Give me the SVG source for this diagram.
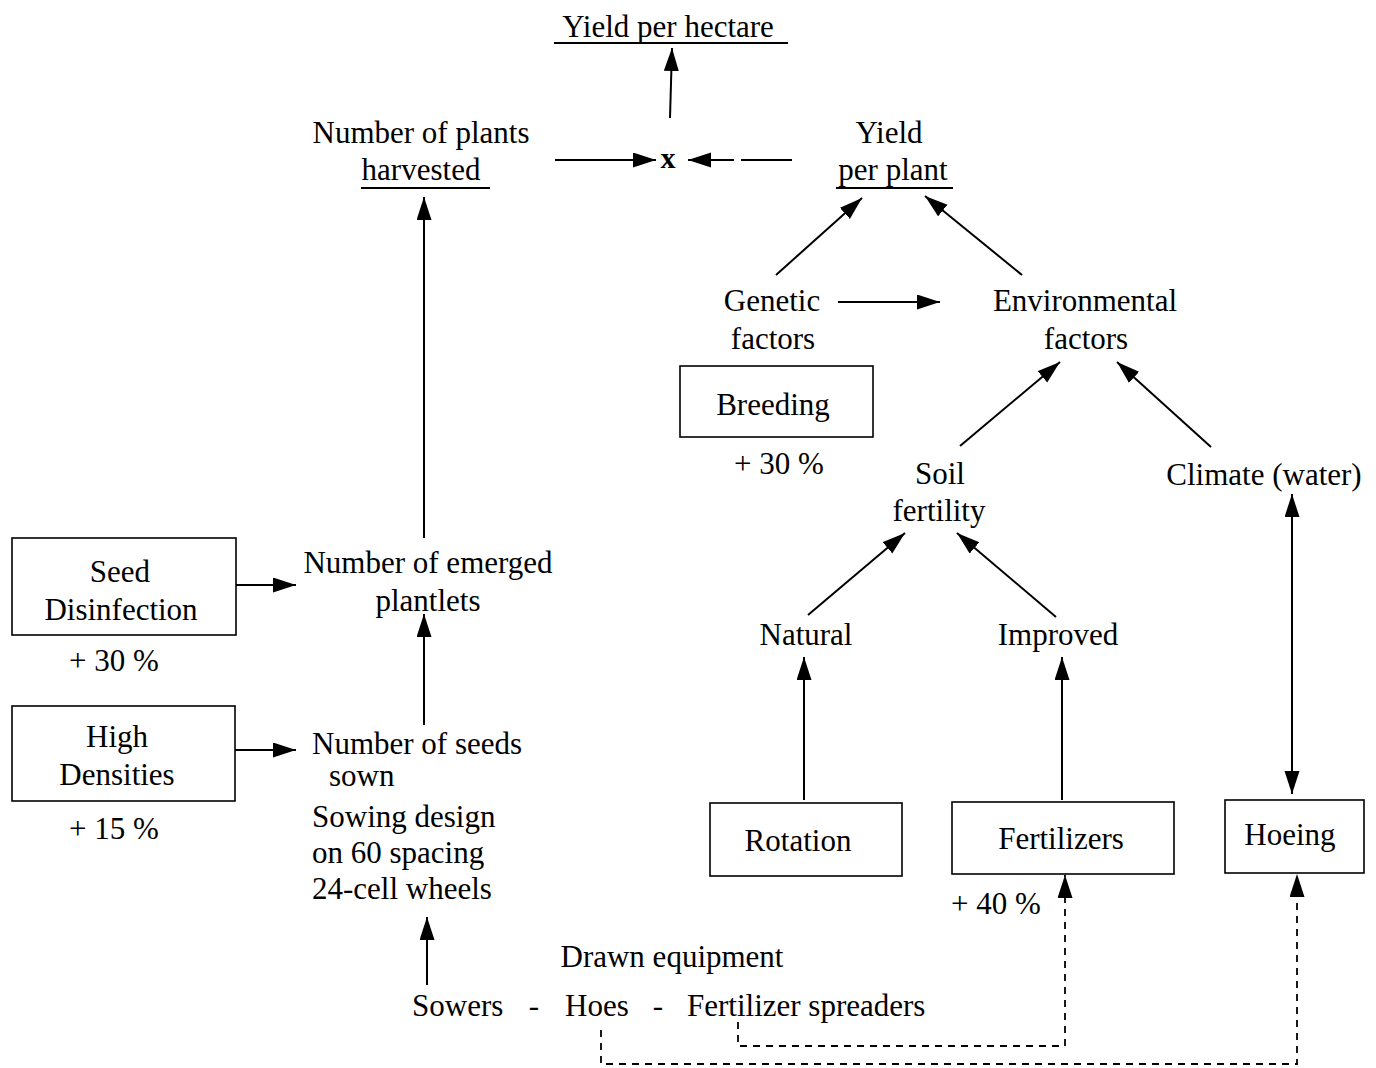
<svg xmlns="http://www.w3.org/2000/svg" width="1376" height="1068" viewBox="0 0 1376 1068">
  <style>
    text { font-family: "Liberation Serif", "Times New Roman", serif; font-size: 31px; fill: #000; }
    .c { text-anchor: middle; }
    .box { fill: #fff; stroke: #000; stroke-width: 1.6; }
    .ul { stroke: #000; stroke-width: 2.2; }
    .ln { fill: none; stroke: #000; stroke-width: 2; }
    .dash { fill: none; stroke: #000; stroke-width: 1.8; stroke-dasharray: 7 6; }
    .bold { font-weight: bold; font-size: 30px; }
  </style>
  <defs>
    <marker id="ah" markerUnits="userSpaceOnUse" markerWidth="26" markerHeight="18" refX="23" refY="7.5" orient="auto-start-reverse">
      <path d="M0,0 L23,7.5 L0,15 Z" fill="#000"/>
    </marker>
  </defs>

  <rect width="1376" height="1068" fill="#fff"/>

  <!-- nodes -->
  <g id="yield-hectare">
    <text class="c" x="668" y="37">Yield per hectare</text>
    <line class="ul" x1="554" y1="43" x2="788" y2="43"/>
  </g>
  <g id="times">
    <text class="c bold" x="668" y="168">x</text>
  </g>
  <g id="plants-harvested">
    <text class="c" x="421" y="143">Number of plants</text>
    <text class="c" x="421" y="180">harvested</text>
    <line class="ul" x1="361" y1="188" x2="490" y2="188"/>
  </g>
  <g id="yield-plant">
    <text class="c" x="889" y="143">Yield</text>
    <text class="c" x="893" y="180">per plant</text>
    <line class="ul" x1="836" y1="188" x2="953" y2="188"/>
  </g>
  <g id="genetic">
    <text class="c" x="772" y="311">Genetic</text>
    <text class="c" x="773" y="349">factors</text>
  </g>
  <g id="environmental">
    <text class="c" x="1085" y="311">Environmental</text>
    <text class="c" x="1086" y="349">factors</text>
  </g>
  <g id="breeding">
    <rect class="box" x="680" y="366" width="193" height="71"/>
    <text class="c" x="773" y="415">Breeding</text>
    <text class="c" x="779" y="474">+ 30 %</text>
  </g>
  <g id="soil">
    <text class="c" x="940" y="484">Soil</text>
    <text class="c" x="939" y="521">fertility</text>
  </g>
  <g id="climate">
    <text class="c" x="1264" y="485">Climate (water)</text>
  </g>
  <g id="natural">
    <text class="c" x="806" y="645">Natural</text>
  </g>
  <g id="improved">
    <text class="c" x="1058" y="645">Improved</text>
  </g>
  <g id="rotation">
    <rect class="box" x="710" y="803" width="192" height="73"/>
    <text class="c" x="798" y="851">Rotation</text>
  </g>
  <g id="fertilizers">
    <rect class="box" x="952" y="802" width="222" height="72"/>
    <text class="c" x="1061" y="849">Fertilizers</text>
    <text class="c" x="996" y="914">+ 40 %</text>
  </g>
  <g id="hoeing">
    <rect class="box" x="1225" y="800" width="139" height="73"/>
    <text class="c" x="1290" y="845">Hoeing</text>
  </g>
  <g id="emerged">
    <text class="c" x="428" y="573">Number of emerged</text>
    <text class="c" x="428" y="611">plantlets</text>
  </g>
  <g id="seed-disinfection">
    <rect class="box" x="12" y="538" width="224" height="97"/>
    <text class="c" x="120" y="582">Seed</text>
    <text class="c" x="121" y="620">Disinfection</text>
    <text class="c" x="114" y="671">+ 30 %</text>
  </g>
  <g id="high-densities">
    <rect class="box" x="12" y="706" width="223" height="95"/>
    <text class="c" x="117" y="747">High</text>
    <text class="c" x="117" y="785">Densities</text>
    <text class="c" x="114" y="839">+ 15 %</text>
  </g>
  <g id="seeds-sown">
    <text x="312" y="754">Number of seeds</text>
    <text x="329" y="786">sown</text>
    <text x="312" y="827">Sowing design</text>
    <text x="312" y="863">on 60 spacing</text>
    <text x="312" y="899">24-cell wheels</text>
  </g>
  <g id="equipment">
    <text class="c" x="672" y="967">Drawn equipment</text>
    <text x="412" y="1016">Sowers</text>
    <text class="c" x="534" y="1016">-</text>
    <text x="565" y="1016">Hoes</text>
    <text class="c" x="658" y="1016">-</text>
    <text x="687" y="1016">Fertilizer spreaders</text>
  </g>

  <!-- connectors -->
  <g id="connectors">
    <line class="ln" x1="670" y1="118" x2="672" y2="48" marker-end="url(#ah)"/>
    <line class="ln" x1="555" y1="160" x2="656" y2="160" marker-end="url(#ah)"/>
    <line class="ln" x1="792" y1="160" x2="741" y2="160"/>
    <line class="ln" x1="734" y1="160" x2="688" y2="160" marker-end="url(#ah)"/>
    <line class="ln" x1="776" y1="275" x2="862" y2="198" marker-end="url(#ah)"/>
    <line class="ln" x1="1022" y1="275" x2="925" y2="196" marker-end="url(#ah)"/>
    <line class="ln" x1="838" y1="302" x2="940" y2="302" marker-end="url(#ah)"/>
    <line class="ln" x1="960" y1="446" x2="1060" y2="362" marker-end="url(#ah)"/>
    <line class="ln" x1="1211" y1="447" x2="1117" y2="362" marker-end="url(#ah)"/>
    <line class="ln" x1="1292" y1="494" x2="1292" y2="794" marker-start="url(#ah)" marker-end="url(#ah)"/>
    <line class="ln" x1="808" y1="615" x2="905" y2="533" marker-end="url(#ah)"/>
    <line class="ln" x1="1056" y1="617" x2="957" y2="533" marker-end="url(#ah)"/>
    <line class="ln" x1="804" y1="800" x2="804" y2="657" marker-end="url(#ah)"/>
    <line class="ln" x1="1062" y1="800" x2="1062" y2="657" marker-end="url(#ah)"/>
    <line class="ln" x1="424" y1="538" x2="424" y2="197" marker-end="url(#ah)"/>
    <line class="ln" x1="236" y1="585" x2="296" y2="585" marker-end="url(#ah)"/>
    <line class="ln" x1="235" y1="750" x2="296" y2="750" marker-end="url(#ah)"/>
    <line class="ln" x1="424" y1="725" x2="424" y2="614" marker-end="url(#ah)"/>
    <line class="ln" x1="427" y1="985" x2="427" y2="917" marker-end="url(#ah)"/>
    <polyline class="dash" points="738,1022 738,1046 1065,1046 1065,875" marker-end="url(#ah)"/>
    <polyline class="dash" points="601,1030 601,1064 1297,1064 1297,874" marker-end="url(#ah)"/>
  </g>
</svg>
